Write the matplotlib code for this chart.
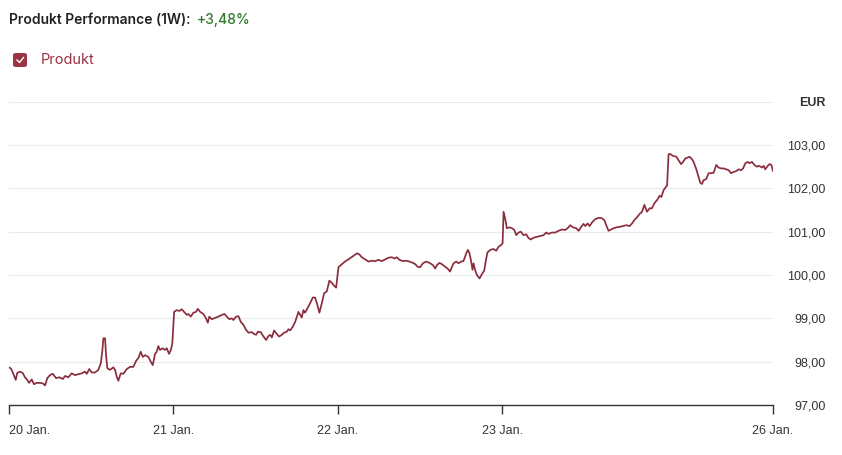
import matplotlib
matplotlib.use("Agg")
import matplotlib.pyplot as plt
from matplotlib.patches import FancyBboxPatch
from matplotlib.lines import Line2D

# time in days since 20 Jan (trading axis), price in EUR
t_days = [
    0.000, 0.012, 0.024, 0.041, 0.050, 0.067, 0.083, 0.097, 0.109, 0.122,
    0.138, 0.152, 0.168, 0.189, 0.205, 0.219, 0.233, 0.249, 0.266, 0.286,
    0.306, 0.327, 0.341, 0.361, 0.381, 0.401, 0.422, 0.442, 0.462, 0.473,
    0.488, 0.503, 0.523, 0.543, 0.558, 0.568, 0.574, 0.584, 0.590, 0.598,
    0.614, 0.634, 0.645, 0.655, 0.665, 0.679, 0.695, 0.716, 0.736, 0.756,
    0.773, 0.786, 0.801, 0.813, 0.827, 0.847, 0.862, 0.874, 0.888, 0.898,
    0.908, 0.918, 0.935, 0.949, 0.959, 0.973, 0.984, 0.993,
    1.004, 1.020, 1.036, 1.050, 1.064, 1.081, 1.091, 1.105, 1.121, 1.137,
    1.148, 1.162, 1.182, 1.198, 1.209, 1.218, 1.233, 1.253, 1.273, 1.294,
    1.310, 1.324, 1.340, 1.355, 1.364, 1.381, 1.395, 1.409, 1.425, 1.442,
    1.456, 1.476, 1.490, 1.502, 1.513, 1.531, 1.547, 1.563, 1.577, 1.588,
    1.598, 1.612, 1.628, 1.642, 1.659, 1.673, 1.689, 1.699, 1.709, 1.726,
    1.740, 1.760, 1.770, 1.780, 1.790, 1.800, 1.814, 1.831, 1.847, 1.861,
    1.872, 1.887, 1.902, 1.916, 1.932, 1.948, 1.963, 1.977, 1.989,
    2.003, 2.018, 2.033, 2.050, 2.064, 2.074, 2.094, 2.115, 2.129, 2.145,
    2.165, 2.186, 2.206, 2.226, 2.246, 2.267, 2.287, 2.307, 2.328, 2.344,
    2.358, 2.374, 2.395, 2.415, 2.435, 2.456, 2.470, 2.484, 2.500, 2.516,
    2.536, 2.557, 2.577, 2.591, 2.602, 2.617, 2.632, 2.652, 2.666, 2.682,
    2.693, 2.703, 2.719, 2.733, 2.748, 2.763, 2.780, 2.790, 2.800, 2.810,
    2.818, 2.824, 2.835, 2.845, 2.861, 2.875, 2.889, 2.900, 2.909, 2.926,
    2.946, 2.962, 2.976, 2.991,
    3.001, 3.007, 3.017, 3.027, 3.043, 3.058, 3.072, 3.084, 3.098, 3.112,
    3.128, 3.145, 3.159, 3.173, 3.189, 3.210, 3.230, 3.250, 3.266, 3.280,
    3.301, 3.321, 3.341, 3.362, 3.382, 3.402, 3.412, 3.429, 3.449, 3.463,
    3.477, 3.493, 3.504, 3.518, 3.530, 3.544, 3.564, 3.585, 3.605, 3.619,
    3.631, 3.645, 3.660, 3.676, 3.692, 3.712, 3.733, 3.753, 3.773, 3.788,
    3.802, 3.818, 3.834, 3.849, 3.863, 3.879, 3.895, 3.909, 3.923, 3.940,
    3.956, 3.966, 3.980, 3.995,
    4.001, 4.010, 4.021, 4.037, 4.057, 4.071, 4.086, 4.098, 4.112, 4.126,
    4.138, 4.153, 4.162, 4.177, 4.189, 4.203, 4.213, 4.223, 4.238, 4.254,
    4.270, 4.284, 4.300, 4.314, 4.331, 4.345, 4.361, 4.375, 4.390, 4.406,
    4.422, 4.436, 4.451, 4.463, 4.477, 4.491, 4.503, 4.517, 4.532, 4.548,
    4.561, 4.578, 4.588, 4.598, 4.613, 4.625, 4.635, 4.645,
]
price = [
    97.87, 97.84, 97.74, 97.58, 97.74, 97.77, 97.74, 97.64, 97.59, 97.51,
    97.59, 97.48, 97.51, 97.51, 97.50, 97.45, 97.62, 97.69, 97.72, 97.62,
    97.64, 97.60, 97.67, 97.64, 97.73, 97.69, 97.71, 97.73, 97.77, 97.72,
    97.83, 97.75, 97.75, 97.81, 97.96, 98.27, 98.54, 98.54, 98.15, 97.85,
    97.81, 97.87, 97.81, 97.65, 97.56, 97.73, 97.72, 97.83, 97.88, 97.88,
    98.02, 98.08, 98.23, 98.11, 98.15, 98.11, 98.00, 97.92, 98.18, 98.23,
    98.36, 98.27, 98.31, 98.27, 98.31, 98.18, 98.27, 98.42,
    99.15, 99.19, 99.17, 99.21, 99.15, 99.08, 99.10, 99.04, 99.13, 99.15,
    99.22, 99.15, 99.10, 99.00, 98.90, 99.04, 98.98, 99.01, 99.04, 99.08,
    99.10, 99.04, 98.98, 99.00, 98.96, 99.04, 99.05, 98.92, 98.85, 98.73,
    98.67, 98.68, 98.64, 98.62, 98.69, 98.68, 98.58, 98.50, 98.59, 98.62,
    98.56, 98.72, 98.64, 98.58, 98.62, 98.67, 98.69, 98.75, 98.72, 98.81,
    98.92, 99.15, 99.08, 99.02, 99.19, 99.13, 99.23, 99.35, 99.48, 99.48,
    99.35, 99.13, 99.35, 99.58, 99.62, 99.87, 99.82, 99.75, 99.71,
    100.18, 100.23, 100.28, 100.33, 100.36, 100.39, 100.44, 100.50, 100.48, 100.41,
    100.36, 100.31, 100.33, 100.32, 100.35, 100.32, 100.36, 100.40, 100.41, 100.38,
    100.41, 100.35, 100.32, 100.33, 100.31, 100.28, 100.25, 100.19, 100.18, 100.27,
    100.31, 100.28, 100.23, 100.15, 100.23, 100.28, 100.25, 100.19, 100.15, 100.08,
    100.19, 100.27, 100.31, 100.27, 100.31, 100.32, 100.50, 100.58, 100.50, 100.31,
    100.12, 100.27, 100.10, 100.00, 99.92, 100.02, 100.10, 100.35, 100.52, 100.58,
    100.60, 100.56, 100.65, 100.69,
    100.73, 101.46, 101.29, 101.08, 101.10, 101.08, 101.04, 100.92, 100.98, 101.00,
    100.92, 100.94, 100.85, 100.82, 100.86, 100.88, 100.90, 100.92, 100.98, 100.95,
    100.98, 100.98, 101.02, 101.05, 101.04, 101.10, 101.15, 101.10, 101.08, 101.02,
    101.10, 101.18, 101.13, 101.19, 101.13, 101.21, 101.29, 101.32, 101.31, 101.27,
    101.15, 101.02, 101.05, 101.08, 101.10, 101.11, 101.13, 101.15, 101.13, 101.19,
    101.27, 101.33, 101.41, 101.46, 101.62, 101.46, 101.54, 101.54, 101.65, 101.73,
    101.83, 101.80, 101.96, 102.04,
    102.06, 102.79, 102.79, 102.75, 102.73, 102.65, 102.56, 102.61, 102.69, 102.71,
    102.73, 102.67, 102.61, 102.46, 102.31, 102.13, 102.10, 102.19, 102.21, 102.35,
    102.35, 102.36, 102.54, 102.48, 102.46, 102.46, 102.44, 102.42, 102.35, 102.38,
    102.40, 102.44, 102.42, 102.46, 102.58, 102.61, 102.58, 102.61, 102.54, 102.50,
    102.52, 102.48, 102.52, 102.44, 102.52, 102.56, 102.54, 102.40,
]

x_tick_pos = [0, 1, 2, 3, 4.645]
x_tick_labels = ["20 Jan.", "21 Jan.", "22 Jan.", "23 Jan.", "26 Jan."]
y_ticks = [97, 98, 99, 100, 101, 102, 103, 104]

line_color = "#8c2d3e"
text_color = "#333333"

fig = plt.figure(figsize=(8.42, 4.55), dpi=100)
ax = fig.add_axes([9 / 842, 50 / 455, 764 / 842, 303.3 / 455])

ax.plot(t_days, price, color=line_color, linewidth=1.25)

ax.set_xlim(0, 4.645)
ax.set_ylim(97, 104)

# grid and spines
ax.set_yticks(y_ticks)
ax.grid(axis="y", color="#ebebeb", linewidth=0.8)
ax.set_axisbelow(True)
for side in ["top", "left", "right"]:
    ax.spines[side].set_visible(False)
ax.spines["bottom"].set_color(text_color)
ax.spines["bottom"].set_linewidth(1.0)

# x axis
ax.set_xticks(x_tick_pos)
ax.set_xticklabels(x_tick_labels, fontsize=9, color=text_color, family="Liberation Sans")
ax.tick_params(axis="x", direction="out", length=6.5, width=1.0, color=text_color, pad=8)
ax.get_xticklabels()[0].set_horizontalalignment("left")

# y axis on the right, right aligned labels
ax.yaxis.tick_right()
y_labels = [f"{v:.2f}".replace(".", ",") for v in y_ticks[:-1]] + ["EUR"]
ax.set_yticklabels(y_labels, fontsize=9, color=text_color, family="Liberation Sans")
ax.tick_params(axis="y", length=0, pad=38)
for lab in ax.get_yticklabels():
    lab.set_horizontalalignment("right")
ax.get_yticklabels()[-1].set_fontweight("bold")

# title
fig.text(9 / 842, 1 - 20 / 455, "Produkt Performance (1W):", fontsize=10,
         color="#222222", family="Inter", fontweight="semibold", va="center")
fig.text(197 / 842, 1 - 20 / 455, "+3,48%", fontsize=10, color="#2f7a28",
         family="Inter", fontweight="medium", va="center")

# legend checkbox
box = FancyBboxPatch((13 / 842, 1 - 67 / 455), 14 / 842, 14 / 455,
                     boxstyle="round,pad=0,rounding_size=0.004",
                     transform=fig.transFigure, facecolor="#9a3444", edgecolor="none")
fig.patches.append(box)
fig.lines.append(Line2D([17 / 842, 19.5 / 842, 23.5 / 842],
                        [1 - 60 / 455, 1 - 62.5 / 455, 1 - 57.5 / 455],
                        transform=fig.transFigure, color="white", linewidth=1.0))
fig.text(41 / 842, 1 - 60 / 455, "Produkt", fontsize=10.5, color="#9a3444",
         family="Inter", va="center")

fig.savefig("out.png", dpi=100)
